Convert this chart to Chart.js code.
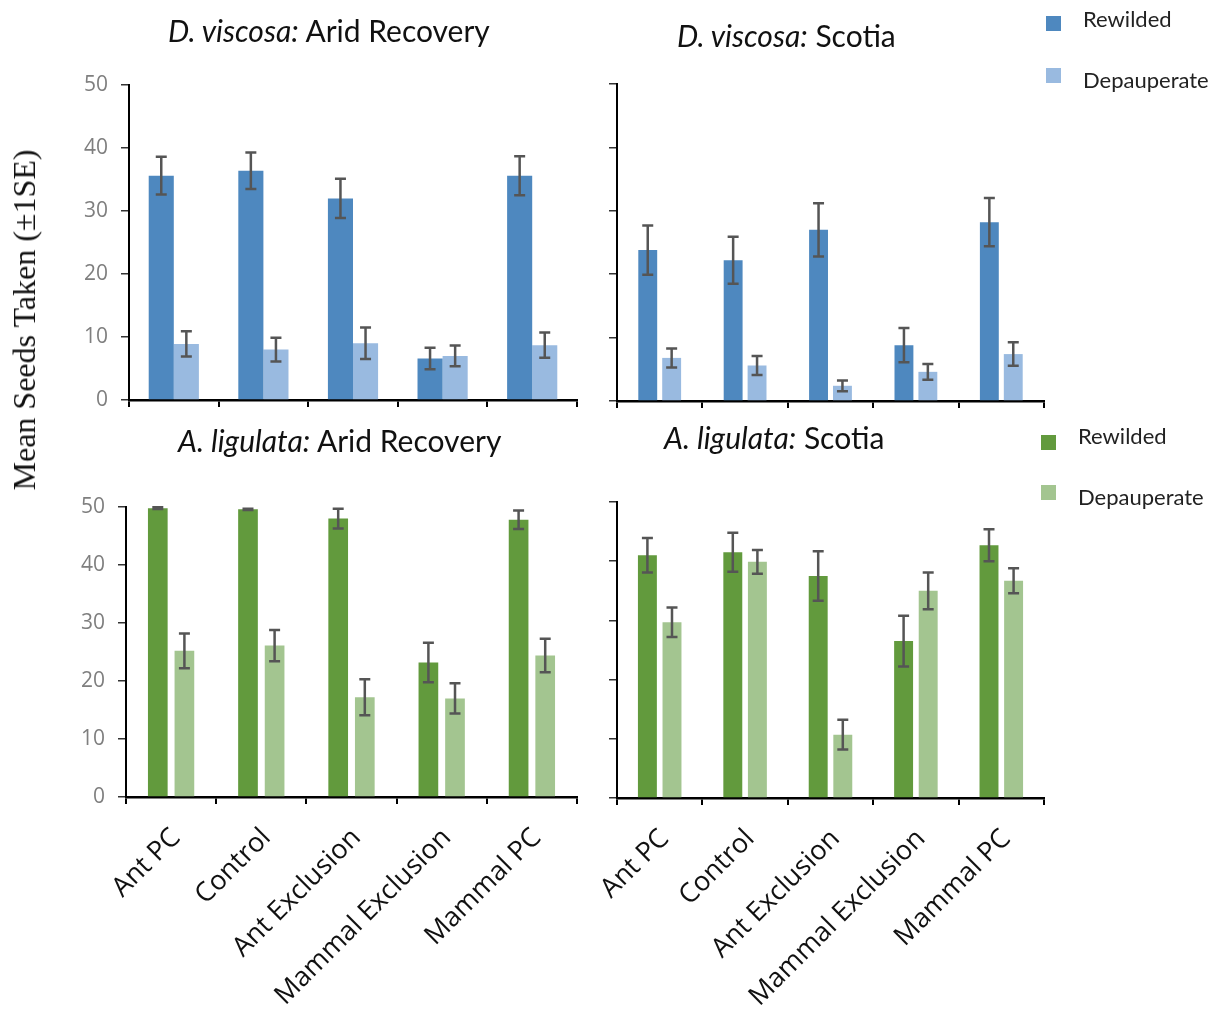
<!DOCTYPE html>
<html>
<head>
<meta charset="utf-8">
<script src="https://cdn.jsdelivr.net/npm/chart.js@4.4.1/dist/chart.umd.min.js"></script>
<style>
  html, body { margin: 0; padding: 0; background: #fff; }
  #wrap { position: relative; width: 1214px; height: 1015px; overflow: hidden; background: #fff; }
  canvas { position: absolute; left: 0; top: 0; }
  .title { position: absolute; font-family: Lato, "Open Sans", sans-serif; font-size: 30px; color: #111; white-space: nowrap; line-height: 32px; }
  .leg { position: absolute; font-family: Lato, "Open Sans", sans-serif; font-size: 22px; color: #222; white-space: nowrap; line-height: 24px; }
  .sw { position: absolute; width: 15px; height: 15px; }
  #ytitle { position: absolute; font-family: "Liberation Serif", "DejaVu Serif", serif; font-size: 32px; color: #111; white-space: nowrap;
            left: 24px; top: 320px; transform: translate(-50%, -50%) rotate(-90deg); line-height: 34px; }
</style>
</head>
<body>
<div id="wrap">
  <canvas id="c1" width="1214" height="1015"></canvas>
  <canvas id="c2" width="1214" height="1015"></canvas>
  <canvas id="c3" width="1214" height="1015"></canvas>
  <canvas id="c4" width="1214" height="1015"></canvas>

  <div class="title" style="left:168px; top:14px;"><i>D. viscosa:</i> Arid Recovery</div>
  <div class="title" style="left:677px; top:19px;"><i>D. viscosa:</i> Scotia</div>
  <div class="title" style="left:178px; top:424px;"><i>A. ligulata:</i> Arid Recovery</div>
  <div class="title" style="left:664px; top:421px;"><i>A. ligulata:</i> Scotia</div>

  <div class="sw" style="left:1046px; top:16px; background:#4E88BF;"></div>
  <div class="leg" style="left:1083px; top:7px;">Rewilded</div>
  <div class="sw" style="left:1046px; top:68px; background:#99BAE0;"></div>
  <div class="leg" style="left:1083px; top:68px;">Depauperate</div>

  <div class="sw" style="left:1041px; top:435px; background:#629A3D;"></div>
  <div class="leg" style="left:1078px; top:424px;">Rewilded</div>
  <div class="sw" style="left:1041px; top:485px; background:#A3C590;"></div>
  <div class="leg" style="left:1078px; top:485px;">Depauperate</div>

  <div id="ytitle">Mean Seeds Taken (±1SE)</div>
</div>
<script>
// ---- data ----
const categories = ["Ant PC", "Control", "Ant Exclusion", "Mammal Exclusion", "Mammal PC"];
const yTicks = [0, 10, 20, 30, 40, 50];

const dvAridRewilded      = [35.6, 36.4, 32.0, 6.6, 35.6];
const dvAridRewildedSE    = [3.0, 2.9, 3.1, 1.7, 3.1];
const dvAridDepauperate   = [8.9, 8.0, 9.0, 7.0, 8.7];
const dvAridDepauperateSE = [2.0, 1.9, 2.5, 1.65, 2.0];

const dvScotiaRewilded      = [23.8, 22.2, 27.0, 8.8, 28.2];
const dvScotiaRewildedSE    = [3.9, 3.7, 4.2, 2.7, 3.8];
const dvScotiaDepauperate   = [6.8, 5.6, 2.4, 4.6, 7.4];
const dvScotiaDepauperateSE = [1.5, 1.5, 0.85, 1.25, 1.85];

const alAridRewilded      = [49.8, 49.6, 48.0, 23.2, 47.8];
const alAridRewildedSE    = [0.15, 0.1, 1.7, 3.4, 1.6];
const alAridDepauperate   = [25.2, 26.1, 17.2, 17.0, 24.4];
const alAridDepauperateSE = [3.0, 2.7, 3.1, 2.6, 2.9];

const alScotiaRewilded      = [41.0, 41.5, 37.5, 26.5, 42.7];
const alScotiaRewildedSE    = [2.9, 3.3, 4.2, 4.3, 2.7];
const alScotiaDepauperate   = [29.7, 39.9, 10.7, 35.0, 36.7];
const alScotiaDepauperateSE = [2.5, 2.0, 2.5, 3.1, 2.1];

// ---- styles ----
const BLUE = "#4E88BF", LBLUE = "#99BAE0", GREEN = "#629A3D", LGREEN = "#A3C590";
const W = 1214, H = 1015;

const errorBars = {
  id: "errorBars",
  afterDatasetsDraw(chart) {
    const ctx = chart.ctx, ys = chart.scales.y;
    ctx.save();
    ctx.strokeStyle = "#555555";
    ctx.lineWidth = 2.5;
    chart.data.datasets.forEach((ds, i) => {
      const meta = chart.getDatasetMeta(i);
      meta.data.forEach((el, j) => {
        const v = ds.data[j], e = ds.errors[j];
        const yt = ys.getPixelForValue(v + e), yb = ys.getPixelForValue(v - e);
        const x = el.x, cap = 5.5;
        ctx.beginPath();
        ctx.moveTo(x, yt); ctx.lineTo(x, yb);
        ctx.moveTo(x - cap, yt); ctx.lineTo(x + cap, yt);
        ctx.moveTo(x - cap, yb); ctx.lineTo(x + cap, yb);
        ctx.stroke();
      });
    });
    ctx.restore();
  }
};

function makeChart(id, area, series, opts) {
  const yW = 60, xH = opts.showX ? 220 : 10;
  return new Chart(document.getElementById(id), {
    type: "bar",
    data: {
      labels: categories,
      datasets: [
        { label: "Rewilded", data: series[0], errors: series[1], backgroundColor: opts.c1,
          categoryPercentage: opts.cat, barPercentage: opts.bar },
        { label: "Depauperate", data: series[2], errors: series[3], backgroundColor: opts.c2,
          categoryPercentage: opts.cat, barPercentage: opts.bar }
      ]
    },
    options: {
      responsive: false,
      animation: false,
      devicePixelRatio: 1,
      layout: { padding: { left: area.l - yW, right: W - area.r, top: area.t, bottom: H - area.b - xH } },
      plugins: { legend: { display: false }, tooltip: { enabled: false } },
      scales: {
        x: {
          afterFit: s => { s.height = xH; },
          border: { display: true, color: "#000", width: 2.5 },
          grid: { display: true, drawOnChartArea: false, drawTicks: true, tickLength: 7, color: "#000", lineWidth: 2, offset: true },
          ticks: {
            display: opts.showX, minRotation: 45, maxRotation: 45, autoSkip: false, padding: 18, labelOffset: 5,
            color: "#111", font: { family: "'Open Sans', sans-serif", size: 27 }
          }
        },
        y: {
          min: 0, max: 50,
          afterFit: s => { s.width = yW; },
          afterBuildTicks: s => { s.ticks = yTicks.map(v => ({ value: v })); },
          border: { display: true, color: "#000", width: 2 },
          grid: { display: true, drawOnChartArea: false, drawTicks: true, tickLength: 8, color: "#333", lineWidth: 1.5 },
          ticks: {
            display: opts.showY, padding: 13, color: "#7F7F7F",
            font: { family: "'Open Sans', sans-serif", size: 21 }
          }
        }
      }
    },
    plugins: [errorBars]
  });
}

makeChart("c1", { l: 129, r: 577, t: 85, b: 400 },
  [dvAridRewilded, dvAridRewildedSE, dvAridDepauperate, dvAridDepauperateSE],
  { c1: BLUE, c2: LBLUE, cat: 0.56, bar: 1.0, showX: false, showY: true });
makeChart("c2", { l: 617, r: 1044, t: 84, b: 401 },
  [dvScotiaRewilded, dvScotiaRewildedSE, dvScotiaDepauperate, dvScotiaDepauperateSE],
  { c1: BLUE, c2: LBLUE, cat: 0.56, bar: 0.79, showX: false, showY: false });
makeChart("c3", { l: 126, r: 577, t: 507, b: 797 },
  [alAridRewilded, alAridRewildedSE, alAridDepauperate, alAridDepauperateSE],
  { c1: GREEN, c2: LGREEN, cat: 0.59, bar: 0.74, showX: true, showY: true });
makeChart("c4", { l: 617, r: 1044, t: 502, b: 798 },
  [alScotiaRewilded, alScotiaRewildedSE, alScotiaDepauperate, alScotiaDepauperateSE],
  { c1: GREEN, c2: LGREEN, cat: 0.576, bar: 0.77, showX: true, showY: false });
</script>
</body>
</html>
